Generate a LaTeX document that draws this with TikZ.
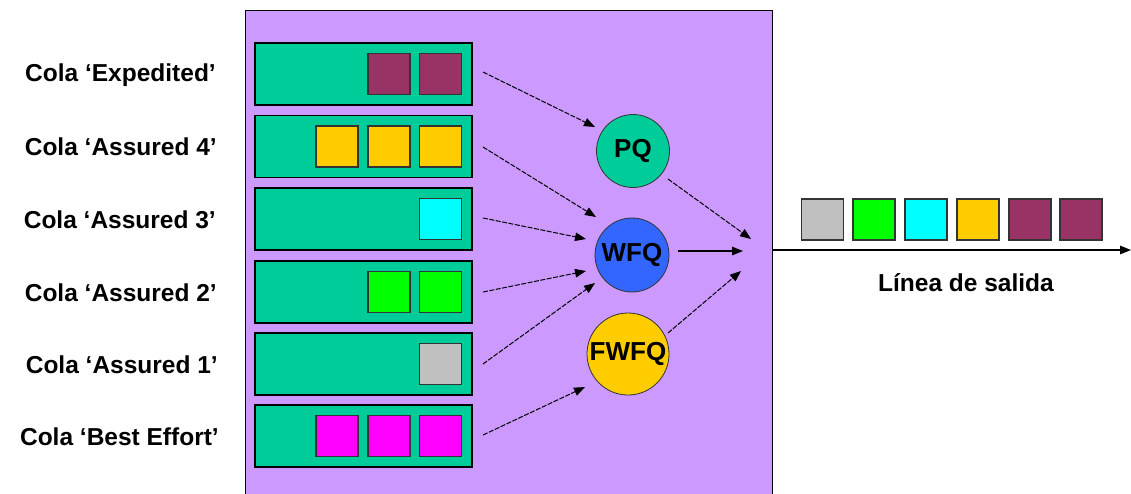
\documentclass[tikz,border=0pt]{standalone}
\usepackage{fontspec}
\setmainfont{Liberation Sans}
\usetikzlibrary{arrows.meta}
\definecolor{qgreen}{HTML}{00CC99}
\definecolor{bgpurple}{HTML}{CC99FF}
\definecolor{maroon}{HTML}{993366}
\definecolor{pyellow}{HTML}{FFCC00}
\definecolor{pcyan}{HTML}{00FFFF}
\definecolor{pgreen}{HTML}{00FF00}
\definecolor{pgray}{HTML}{C0C0C0}
\definecolor{pmagenta}{HTML}{FF00FF}
\definecolor{pblue}{HTML}{3366FF}
\begin{document}
\begin{tikzpicture}[x=1pt,y=-1pt,
  lbl/.style={font=\fontsize{24.5}{28}\selectfont\bfseries, inner sep=0pt},
  queue/.style={draw=black, line width=1.5pt, fill=qgreen, minimum width=217pt, minimum height=62pt, inner sep=0pt},
  pkt/.style={draw=black!80, line width=1.3pt, minimum width=42pt, minimum height=41pt, inner sep=0pt},
  sched/.style={circle, draw=black!80, line width=0.8pt, inner sep=0pt, font=\fontsize{26}{30}\selectfont\bfseries},
  flow/.style={line width=1pt, dash pattern=on 5pt off 1.5pt, -{Triangle[length=11pt,width=8.5pt]}},
  solidflow/.style={line width=1.2pt, -{Triangle[length=11pt,width=8.5pt]}}
]
\useasboundingbox (0,0) rectangle (1131,493);
\fill[white] (0,0) rectangle (1131,493);
\draw[fill=bgpurple, line width=1pt] (245,494) -- (245,10) -- (772,10) -- (772,494);

% queues
\foreach \n/\y in {1/74,2/146.5,3/219,4/292,5/364,6/436}{
  \node[queue] (q\n) at (363.5,\y) {};
}
% packets
\node[pkt, fill=maroon] (p1b) at (389,74) {};
\node[pkt, fill=maroon] (p1c) at (440.5,74) {};
\node[pkt, fill=pyellow] (p2a) at (337,146.5) {};
\node[pkt, fill=pyellow] (p2b) at (389,146.5) {};
\node[pkt, fill=pyellow] (p2c) at (440.5,146.5) {};
\node[pkt, fill=pcyan] (p3c) at (440.5,219) {};
\node[pkt, fill=pgreen] (p4b) at (389,292) {};
\node[pkt, fill=pgreen] (p4c) at (440.5,292) {};
\node[pkt, fill=pgray] (p5c) at (440.5,364) {};
\node[pkt, fill=pmagenta] (p6a) at (337,436) {};
\node[pkt, fill=pmagenta] (p6b) at (389,436) {};
\node[pkt, fill=pmagenta] (p6c) at (440.5,436) {};

% labels
\node[lbl, anchor=east] (l1) at (216,75) {Cola ‘Expedited’};
\node[lbl, anchor=east] (l2) at (217,147) {Cola ‘Assured 4’};
\node[lbl, anchor=east] (l3) at (216,220) {Cola ‘Assured 3’};
\node[lbl, anchor=east] (l4) at (217,293) {Cola ‘Assured 2’};
\node[lbl, anchor=east] (l5) at (218,365) {Cola ‘Assured 1’};
\node[lbl, anchor=east] (l6) at (219,437) {Cola ‘Best Effort’};

% schedulers
\node[sched, fill=qgreen, minimum size=73pt] (pq) at (633,151) {PQ};
\node[sched, fill=pblue, minimum size=74pt] (wfq) at (632,255) {WFQ};
\node[sched, fill=pyellow, minimum size=82pt] (fwfq) at (628,354) {FWFQ};

% arrow coordinates
\coordinate (s1) at (483,72);  \coordinate (e1) at (595,127);
\coordinate (s2) at (483,147); \coordinate (e2) at (596,217);
\coordinate (s3) at (483,218); \coordinate (e3) at (586,239);
\coordinate (s4) at (483,292); \coordinate (e4) at (586,271);
\coordinate (s5) at (483,364); \coordinate (e5) at (595,283);
\coordinate (s6) at (483,435); \coordinate (e6) at (585,387);
\draw[flow] (s1) -- (e1);
\draw[flow] (s2) -- (e2);
\draw[flow] (s3) -- (e3);
\draw[flow] (s4) -- (e4);
\draw[flow] (s5) -- (e5);
\draw[flow] (s6) -- (e6);

\coordinate (o1) at (668,179); \coordinate (m1) at (751,239);
\coordinate (o2) at (678,251); \coordinate (m2) at (743,251);
\coordinate (o3) at (668,333); \coordinate (m3) at (741,271);
\draw[flow] (o1) -- (m1);
\draw[solidflow] (o2) -- (m2);
\draw[flow] (o3) -- (m3);

% output line
\coordinate (ls) at (772,250);
\coordinate (le) at (1131,250);
\draw[line width=1.3pt, -{Triangle[length=11pt,width=8.5pt]}] (ls) -- (le);
\node[pkt, fill=pgray] (o1p) at (822.5,219.5) {};
\node[pkt, fill=pgreen] (o2p) at (874,219.5) {};
\node[pkt, fill=pcyan] (o3p) at (926,219.5) {};
\node[pkt, fill=pyellow] (o4p) at (978,219.5) {};
\node[pkt, fill=maroon] (o5p) at (1030,219.5) {};
\node[pkt, fill=maroon] (o6p) at (1081,219.5) {};
\node[lbl] (salida) at (966,283) {Línea de salida};
\end{tikzpicture}
\end{document}
